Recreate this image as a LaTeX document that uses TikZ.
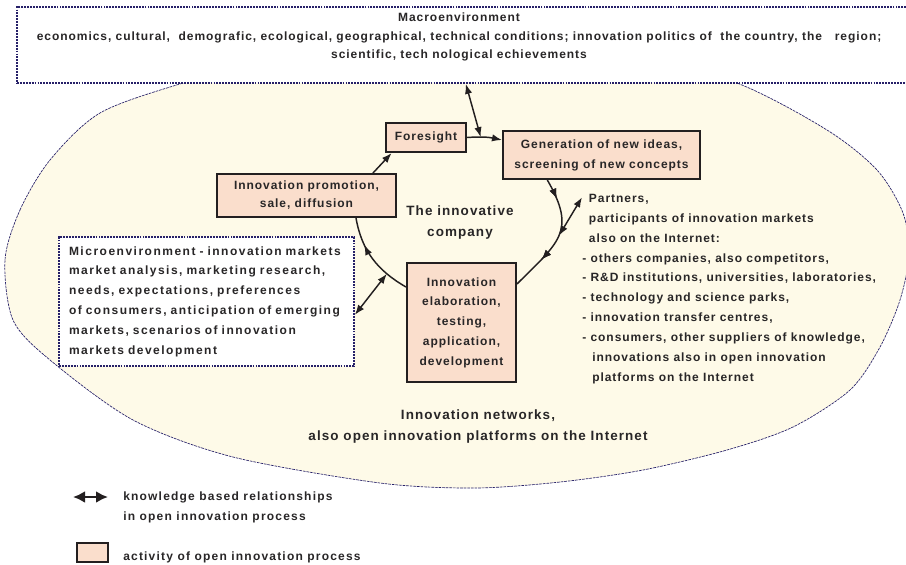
\documentclass[tikz,border=0pt]{standalone}
\usepackage{fontspec}
\setmainfont{Liberation Sans}[LetterSpace=8]
\usetikzlibrary{arrows.meta,decorations.markings}
\newdimen\pxu \pxu=0.75pt
\definecolor{cream}{RGB}{254,250,232}
\definecolor{peach}{RGB}{250,222,204}
\definecolor{navy}{RGB}{38,32,104}
\definecolor{ink}{RGB}{40,38,39}
\definecolor{edge}{RGB}{35,31,32}
\newcommand{\smallfont}[1]{\fontsize{9}{#1}\selectfont\bfseries}
\newcommand{\largefont}[1]{\fontsize{10.1}{#1}\selectfont\bfseries}
\begin{document}
\begin{tikzpicture}[x=0.75pt,y=-0.75pt,
  txt/.style={text=ink, inner sep=0pt},
  activity/.style={draw=edge, line width=1.5pt, fill=peach, text=ink, align=center, inner sep=0pt},
  envbox/.style={draw=navy, line width=1.3pt, dash pattern=on 1.4pt off 0.8pt, fill=white, text=ink, inner sep=0pt},
  conn/.style={draw=edge, line width=1.1pt, -{Latex[length=7.5pt,width=5.5pt]}},
  dbl/.style={draw=edge, line width=1.1pt, {Latex[length=7.5pt,width=5.5pt]}-{Latex[length=7.5pt,width=5.5pt]}},
  tipat/.style={postaction={decorate}, decoration={markings, mark=at position #1 with {\arrow{Latex[length=7.5pt,width=5.5pt]}}}},
]
\useasboundingbox (0,0) rectangle (906,564);

% innovation network area
\draw[navy, line width=0.5pt, dash pattern=on 2pt off 0.7pt, fill=cream]
  plot[smooth cycle] coordinates {
    (5,260) (20,210) (50,160) (100,113) (183,83) (300,51) (456,37) (620,50)
    (737,83) (827,130) (877,170) (903,213) (909,255) (900,300) (880,347)
    (850,390) (793,427) (727,450) (643,470) (560,482) (475,488)
    (380,483) (233,457) (133,420) (50,360) (13,320)};

% macroenvironment
\node[envbox, minimum width=895\pxu, minimum height=76\pxu] (macro) at (464.5,45) {};
\node[txt, align=center, font=\smallfont{13.9pt}] (macrotxt) at (459,37)
  {Macroenvironment\\
   economics, cultural,\ \ demografic, ecological, geographical, technical conditions; innovation politics of\ \ the country, the\ \ \ region;\\
   scientific, tech nological echievements};

% microenvironment
\node[envbox, minimum width=295\pxu, minimum height=129\pxu, text width=275\pxu, align=left,
      font=\smallfont{14.85pt}\addfontfeature{LetterSpace=12.5}] (micro) at (206.5,301.5)
  {Microenvironment - innovation markets\\
   market analysis, marketing research,\\
   needs, expectations, preferences\\
   of consumers, anticipation of emerging\\
   markets, scenarios of innovation\\
   markets development};

% activities of the innovation cycle
\node[activity, minimum width=80\pxu, minimum height=29\pxu, font=\smallfont{15pt}] (fore) at (426,137.5) {Foresight};
\node[activity, minimum width=197\pxu, minimum height=48\pxu, font=\smallfont{15pt}] (gen) at (601.5,155)
  {Generation of new ideas,\\screening of new concepts};
\node[activity, minimum width=179\pxu, minimum height=43\pxu, font=\smallfont{13.5pt}] (prom) at (306.5,195.5)
  {Innovation promotion,\\sale, diffusion};
\node[activity, minimum width=109\pxu, minimum height=119\pxu, font=\smallfont{14.85pt}] (elab) at (461.5,322.5)
  {Innovation\\elaboration,\\testing,\\application,\\development};

\node[txt, align=center, font=\largefont{15.75pt}] (company) at (460,222.5) {The innovative\\company};

% partners
\node[txt, anchor=north west, align=left, font=\smallfont{14.9pt}] (plist) at (582,194)
  {\hspace*{5pt}Partners,\\
   \hspace*{5pt}participants of innovation markets\\
   \hspace*{5pt}also on the Internet:\\
   - others companies, also competitors,\\
   - R\&D institutions, universities, laboratories,\\
   - technology and science parks,\\
   - innovation transfer centres,\\
   - consumers, other suppliers of knowledge,\\
   \hspace*{7.5pt}innovations also in open innovation\\
   \hspace*{7.5pt}platforms on the Internet};

\node[txt, align=center, font=\largefont{15.75pt}] (network) at (478,426.5)
  {Innovation networks,\\also open innovation platforms on the Internet};

% cycle connectors
\draw[conn] ([xshift=-18pt]prom.north east) -- ([xshift=5pt]fore.south west);
\draw[conn] (fore.east) to[bend left=8] coordinate[pos=0.38] (fgmid) ([yshift=-7.5pt]gen.north west);
\draw[draw=edge, line width=1.1pt, tipat=0.17, tipat=0.72]
  ([xshift=34pt]gen.south west) to[out=-60,in=45,looseness=1.4] coordinate[pos=0.5] (gemid) ([yshift=-16.5pt]elab.north east);
\draw[draw=edge, line width=1.1pt, tipat=0.68]
  ([yshift=-18.75pt]elab.north west) to[out=150,in=-80] coordinate[pos=0.25] (epmid) ([xshift=105pt]prom.south west);

% knowledge based relationships
\draw[dbl] ([xshift=1pt]macro.south) -- (fgmid);
\draw[dbl] (gemid) -- ([yshift=-2.5pt]plist.north west);
\draw[dbl] (epmid) -- ([yshift=-10pt]micro.east);

% legend
\coordinate (legL) at (73,497);
\coordinate (legR) at (108,497);
\draw[draw=edge, line width=2pt, {Latex[length=9pt,width=9pt]}-{Latex[length=9pt,width=9pt]}] (legL) -- (legR);
\node[txt, anchor=west, align=left, font=\smallfont{15pt}\addfontfeature{LetterSpace=10}] (legtxt1) at (123,507)
  {knowledge based relationships\\in open innovation process};
\node[activity, minimum width=31\pxu, minimum height=19\pxu] (legbox) at (92.5,552.5) {};
\node[txt, anchor=west, font=\smallfont{15pt}\addfontfeature{LetterSpace=10}] (legtxt2) at (123,557) {activity of open innovation process};
\end{tikzpicture}
\end{document}
